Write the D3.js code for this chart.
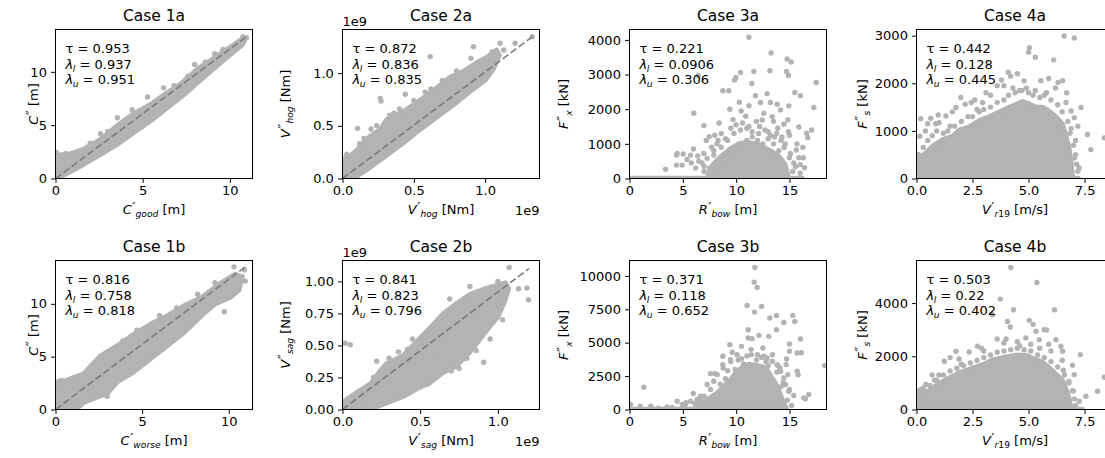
<!DOCTYPE html>
<html>
<head>
<meta charset="utf-8">
<script src="https://cdn.jsdelivr.net/npm/d3@7"></script>
<style>
  body { margin: 0; background: #fff; }
  svg { display: block; }
  text { font-family: "DejaVu Sans", sans-serif; fill: #000; }
</style>
</head>
<body>
<svg id="fig" width="1105" height="458"></svg>
<script>
// ---- Panel text -------------------------------------------------------
const titles = ["Case 1a", "Case 2a", "Case 3a", "Case 4a", "Case 1b", "Case 2b", "Case 3b", "Case 4b"];
const tauValues = ["0.953", "0.872", "0.221", "0.442", "0.816", "0.841", "0.371", "0.503"];
const lambdaLower = ["0.937", "0.836", "0.0906", "0.128", "0.758", "0.823", "0.118", "0.22"];
const lambdaUpper = ["0.951", "0.835", "0.306", "0.445", "0.818", "0.796", "0.652", "0.402"];

// axis labels: base symbol, subscript, unit (x labels carry one prime, y labels two)
const xLabelBase = ["C", "V", "R", "V", "C", "V", "R", "V"];
const xLabelSub = ["good", "hog", "bow", "r19", "worse", "sag", "bow", "r19"];
const xLabelUnit = ["[m]", "[Nm]", "[m]", "[m/s]", "[m]", "[Nm]", "[m]", "[m/s]"];
const yLabelBase = ["C", "V", "F", "F", "C", "V", "F", "F"];
const yLabelSub = ["", "hog", "x", "s", "", "sag", "x", "s"];
const yLabelUnit = ["[m]", "[Nm]", "[kN]", "[kN]", "[m]", "[Nm]", "[kN]", "[kN]"];
const offsetText = ["", "1e9", "", "", "", "1e9", "", ""];

// ---- Axis ranges and ticks (moment values in units of 1e9 Nm) ---------
const xMax = [11.3, 1.381, 18.47, 8.79, 11.37, 1.268, 18.47, 8.79];
const yMax = [13.97, 1.414, 4300, 3130, 14.1, 1.163, 11150, 5600];
const xTickValues = [[0, 5, 10], [0, 0.5, 1], [0, 5, 10, 15], [0, 2.5, 5, 7.5],
                     [0, 5, 10], [0, 0.5, 1], [0, 5, 10, 15], [0, 2.5, 5, 7.5]];
const xTickLabels = [["0", "5", "10"], ["0.0", "0.5", "1.0"], ["0", "5", "10", "15"], ["0.0", "2.5", "5.0", "7.5"],
                     ["0", "5", "10"], ["0.0", "0.5", "1.0"], ["0", "5", "10", "15"], ["0.0", "2.5", "5.0", "7.5"]];
const yTickValues = [[0, 5, 10], [0, 0.5, 1], [0, 1000, 2000, 3000, 4000], [0, 1000, 2000, 3000],
                     [0, 5, 10], [0, 0.25, 0.5, 0.75, 1], [0, 2500, 5000, 7500, 10000], [0, 2000, 4000]];
const yTickLabels = [["0", "5", "10"], ["0.0", "0.5", "1.0"], ["0", "1000", "2000", "3000", "4000"], ["0", "1000", "2000", "3000"],
                     ["0", "5", "10"], ["0.00", "0.25", "0.50", "0.75", "1.00"], ["0", "2500", "5000", "7500", "10000"], ["0", "2000", "4000"]];

// ---- Scatter data: dense cores (outline of overlapping points) + single points
const case1aCloud = [[0,2.2],[0.8,2.3],[1.6,2.75],[2.6,3.7],[3.55,5.0],[4.5,6.1],[5.5,7.0],[6.25,7.9],[7.2,8.9],[8.15,10.3],[9.1,11.3],[10.1,12.4],[10.7,13.1],[10.85,12.9],[10.7,12.5],[10.1,11.7],[9.3,10.6],[8.35,9.25],[7.4,7.9],[6.45,6.65],[5.47,5.4],[4.5,4.3],[3.55,3.2],[2.6,2.25],[1.6,1.3],[0.7,0.5],[0.1,0],[0,0]];
const case1aPoints = [[0.05,2.45],[0.6,2.35],[1.15,2.35],[2.58,4.2],[3.55,5.7],[4.4,6.45],[5.28,7.65],[6.2,8.5],[7.98,10.7],[9.13,11.7],[10.75,13.3],[10.95,13.2],[2.0,3.3],[3.0,4.4],[7.6,9.6],[9.6,12.1],[6.8,8.7],[8.6,10.9]];

const case2aCloud = [[0,0.18],[0.05,0.21],[0.1,0.27],[0.19,0.4],[0.26,0.46],[0.31,0.56],[0.43,0.64],[0.54,0.74],[0.66,0.86],[0.75,0.96],[0.85,1.02],[0.94,1.1],[1.01,1.15],[1.08,1.22],[1.1,1.17],[1.06,1.04],[1.0,0.93],[0.89,0.82],[0.78,0.7],[0.66,0.58],[0.54,0.46],[0.43,0.34],[0.31,0.22],[0.19,0.1],[0.1,0.02],[0.05,0],[0,0]];
const case2aPoints = [[0.105,0.476],[0.265,0.76],[0.27,0.735],[0.44,0.8],[0.615,1.157],[0.918,1.25],[1.105,1.284],[1.21,1.284],[1.33,1.345],[1.13,1.22],[1.05,1.2],[0.2,0.47],[0.36,0.62],[0.5,0.74],[0.7,0.93],[0.8,1.02],[0.03,0.23],[0.12,0.33],[0.9,1.14],[0.58,0.82],[0.15,0.38],[0.24,0.5],[0.33,0.6],[0.4,0.66],[0.62,0.85]];

const case2bCloud = [[0,0.055],[0.05,0.1],[0.114,0.15],[0.178,0.2],[0.24,0.3],[0.285,0.36],[0.39,0.42],[0.5,0.56],[0.564,0.64],[0.65,0.75],[0.736,0.83],[0.822,0.9],[0.908,0.94],[0.994,0.97],[1.05,0.99],[1.07,0.94],[1.04,0.83],[1.0,0.72],[0.95,0.65],[0.886,0.55],[0.822,0.45],[0.736,0.34],[0.65,0.29],[0.564,0.21],[0.478,0.16],[0.39,0.1],[0.285,0.05],[0.2,0.01],[0.17,0],[0,0]];
const case2bPoints = [[0.017,0.517],[0.05,0.506],[0.22,0.377],[0.3,0.4],[0.36,0.45],[0.45,0.55],[0.69,0.862],[1.073,1.109],[1.133,0.943],[1.187,0.948],[1.197,0.857],[0.908,0.369],[0.95,0.55],[1.03,0.7],[0.6,0.44],[0.82,0.96],[1.0,1.0],[0.55,0.2],[0.75,0.32],[0.2,0.25],[0.28,0.33],[0.42,0.47],[0.8,0.4],[0.86,0.46],[0.7,0.3]];

const case3aCloud = [[7.3,60],[7.8,400],[8.6,650],[9.4,850],[10.2,1000],[11.0,1050],[11.8,1000],[12.6,900],[13.4,780],[14.1,620],[14.6,400],[14.9,60]];
const case3aPoints = [[11.19,4077],[13.28,3623],[14.78,3449],[15.16,3362],[10.41,3062],[9.97,2917],[9.84,2840],[11.66,3091],[13.16,3111],[14.72,3091],[14.9,2975],[17.5,2772],[6.44,2975],[8.75,2531],[9.31,2531],[11.47,2743],[15.5,2483],[16.03,2386],[11.81,2386],[12.28,2193],[13.22,2193],[13.84,2145],[14.16,1980],[14.94,2096],[17.28,2048],[6.03,1884],[9.41,2000],[10.47,1951],[6.97,1526],[7.47,1208],[12.44,1690],[12.6,1884],[13.38,1787],[14.47,1565],[14.84,1690],[15.88,1488],[16.6,1304],[17.06,1401],[16.72,1179],[16.25,898],[15.63,821],[15.09,725],[15.88,599],[16.41,309],[15.56,338],[4.47,725],[4.41,676],[5.03,705],[5.72,676],[4.94,386],[4.41,386],[3.38,270],[6.97,725],[7.28,580],[7.9,676],[8.2,1000],[8.6,1300],[9.0,1150],[9.5,1450],[10.0,1550],[10.6,1600],[11.2,1500],[11.9,1650],[12.2,1500],[13.0,1350],[13.6,1200],[14.2,1100],[14.6,1000],[15.0,1250],[13.9,1450],[10.9,1800],[9.7,1700],[8.0,1250],[7.7,900],[6.5,500],[6.2,300],[5.8,450],[7.0,350],[15.3,200],[16.0,150],[10.3,2200],[11.2,2100],[12.9,2450],[7.2,1100],[8.4,1600],[5.4,550],[6.0,850],[16.3,600],[13.5,1650],[7.0,200],[7.5,300],[8.0,200],[8.5,350],[9.0,500],[9.5,700],[10.0,800],[10.5,950],[11.0,1100],[11.5,1200],[12.0,1100],[12.5,1000],[13.0,1150],[13.5,1000],[14.0,800],[14.5,900],[15.0,600],[15.4,450],[8.6,900],[9.2,1100],[9.8,1300],[10.4,1400],[11.0,1450],[11.5,1350],[12.1,1300],[12.7,1400],[13.2,1250],[13.8,1300],[14.3,1200],[7.9,800],[8.3,1100],[6.8,450],[6.4,650],[16.0,400],[15.7,1000],[14.9,1350]];
const case3aFloor = [[0,0],[16.2,0]];

const case4aCloud = [[0,0],[0.04,400],[0.42,540],[0.71,680],[1.16,820],[1.61,890],[1.9,1020],[2.35,1090],[2.8,1220],[3.24,1300],[3.69,1400],[4.14,1500],[4.43,1560],[4.73,1620],[5.03,1570],[5.33,1500],[5.63,1500],[5.92,1420],[6.22,1300],[6.52,1150],[6.67,900],[6.82,620],[6.9,340],[6.96,78],[7.0,0]];
const case4aPoints = [[6.59,2993],[7.04,2951],[5.0,2654],[5.04,2746],[5.3,2549],[6.12,2492],[4.09,2231],[4.5,2200],[4.2,2150],[3.79,2069],[3.9,1950],[3.6,1950],[5.55,2055],[6.32,2019],[6.52,2055],[6.2,1900],[4.6,1850],[4.3,1900],[1.98,1701],[2.44,1595],[2.17,1560],[2.95,1595],[2.7,1450],[0.97,1334],[1.01,1172],[0.64,1264],[1.31,1313],[0.86,1150],[0.19,1257],[0.15,889],[1.76,1490],[1.5,1100],[0.4,1000],[6.67,1596],[6.9,1419],[7.34,1490],[7.04,1278],[7.2,1100],[7.63,925],[7.78,607],[8.38,854],[7.04,430],[7.26,219],[7.1,800],[6.9,1050],[5.8,1800],[5.3,1850],[4.9,1900],[3.3,1750],[2.3,1300],[1.2,950],[0.3,650],[0.1,500],[0.5,800],[0.7,900],[0.9,1000],[1.4,1000],[1.7,1100],[2.0,1200],[2.5,1300],[2.8,1400],[3.0,1450],[3.3,1500],[3.6,1600],[3.9,1650],[4.1,1750],[4.4,1800],[4.7,1850],[5.0,1800],[5.2,1750],[5.5,1700],[5.7,1750],[6.0,1650],[6.3,1550],[6.5,1400],[6.75,1200],[6.85,950],[7.0,700],[7.1,500],[7.15,300],[7.2,150],[2.6,1650],[3.1,1800],[4.8,2050],[5.9,2100],[6.7,1800],[1.6,1400],[0.5,1150]];
const case4aFloor = [[0,0],[7.2,0]];

const case1bCloud = [[0,2.6],[0.66,2.8],[1.63,3.4],[2.6,5.1],[3.57,6.05],[4.53,7.15],[5.5,8.1],[6.47,8.9],[7.44,9.85],[8.41,10.6],[9.19,11.55],[9.57,12.0],[10.35,12.8],[10.8,12.6],[10.6,11.3],[10.1,10.6],[9.19,9.95],[8.41,8.85],[7.44,7.3],[6.47,6.05],[5.5,4.8],[4.53,3.55],[3.57,2.6],[2.98,1.5],[2.4,1.15],[1.63,0.65],[1.2,0],[0,0]];
const case1bPoints = [[10.3,13.5],[10.9,13.2],[10.95,12.15],[10.2,12.6],[9.75,9.25],[9.2,12.0],[2.98,1.25],[0.3,2.75],[1.0,2.95],[3.1,5.45],[3.9,6.5],[4.7,7.5],[6.0,8.9],[7.0,9.6],[8.2,10.9],[0.02,2.4]];

const case3bCloud = [[6.03,0],[6.34,373],[7.28,746],[8.22,1244],[8.84,1742],[9.47,2239],[9.94,2737],[10.56,3160],[11.19,3409],[11.81,3309],[12.44,3234],[12.91,2986],[13.28,2488],[13.69,1990],[14.09,1244],[14.47,498],[14.78,0]];
const case3bPoints = [[11.75,10624],[11.69,9529],[11.97,9131],[11.03,7788],[12.38,7713],[11.72,7290],[13.16,6842],[13.78,7041],[15.31,7041],[15.5,6593],[14.47,6519],[13.78,5971],[16.03,5275],[11.13,5971],[11.13,5349],[11.5,5300],[12.13,5548],[13.06,5473],[9.41,4852],[10.5,4727],[11.41,4105],[12.0,4105],[12.59,3981],[13.4,4100],[8.75,3981],[9.63,4279],[15.0,4902],[15.0,4354],[15.72,4229],[16.1,4250],[14.72,3782],[14.69,3359],[15.72,2861],[15.8,2600],[18.3,3284],[8.75,3359],[9.5,3600],[7.59,2687],[8.0,2687],[1.34,1667],[5.97,1194],[4.47,622],[5.3,500],[5.2,300],[0.1,373],[1.0,250],[2.0,250],[3.53,199],[16.34,871],[16.8,1120],[15.4,1045],[14.84,2612],[14.4,2000],[14.2,1700],[15.0,1500],[13.8,2800],[10.2,3700],[10.7,3400],[12.8,3600],[14.1,3100],[9.0,2300],[8.5,1900],[7.6,1500],[7.0,1000],[6.6,700],[14.8,700],[15.2,300],[13.9,3300],[9.9,3000],[12.5,4600],[11.4,4500],[16.5,800],[6.1,450],[4.0,150],[2.7,100],[7.28,1866],[7.9,2115],[8.22,2612],[8.78,3110],[9.47,3732],[10.09,4105],[12.9,3856],[13.38,3608],[13.84,3359],[14.16,2861],[14.47,2364],[14.63,1866],[14.94,1368],[6.66,995],[5.72,622],[6.34,746],[4.94,373],[10.5,3800],[11.0,4000],[11.9,3700],[12.4,3900],[9.2,2900],[13.0,3300]];
const case3bFloor = [[0,0],[14.5,0]];

const case4bCloud = [[0,0],[0.04,520],[0.42,650],[0.86,900],[1.31,1130],[1.9,1380],[2.5,1560],[2.95,1690],[3.39,1870],[3.99,1980],[4.43,2050],[4.88,2050],[5.18,1930],[5.63,1780],[5.92,1580],[6.22,1340],[6.52,1100],[6.67,780],[6.82,420],[6.9,62],[6.95,0]];
const case4bPoints = [[4.21,5338],[5.37,4775],[3.74,4150],[4.33,3750],[6.16,3750],[3.39,3562],[4.06,3312],[4.18,3100],[5.03,3350],[5.2,3200],[5.33,2938],[5.7,3000],[5.8,2990],[5.48,2625],[4.88,2688],[3.6,2650],[4.5,2550],[2.72,2375],[2.35,2162],[1.76,2188],[1.5,1950],[1.24,1812],[0.42,938],[0.2,750],[7.31,2062],[6.96,1662],[6.55,1475],[7.04,1312],[7.56,500],[8.08,688],[8.38,1212],[7.26,312],[6.52,2188],[6.44,2375],[6.22,2625],[6.0,2200],[5.9,2450],[3.0,2200],[2.0,1700],[1.0,1300],[0.8,1100],[6.8,1000],[7.0,700],[4.6,2400],[3.9,2500],[5.1,2450],[0.05,300],[0.1,700],[0.3,800],[0.6,900],[0.9,1100],[1.2,1300],[1.5,1450],[1.8,1550],[2.1,1650],[2.4,1750],[2.7,1850],[3.0,1950],[3.3,2050],[3.6,2150],[3.9,2200],[4.2,2250],[4.5,2300],[4.8,2250],[5.1,2200],[5.4,2050],[5.7,1950],[6.0,1800],[6.3,1600],[6.6,1300],[6.8,1050],[6.95,700],[7.05,400],[7.1,150],[2.9,2300],[4.0,2650],[5.5,2300],[6.5,1850],[0.7,1300],[1.9,1900]];
const case4bFloor = [[0,0],[7.4,0]];

// dashed reference line from the origin to (max x, max y); cases 1 and 2 only
const refLineEnd = [[10.95, 13.3], [1.33, 1.345], null, null, [10.95, 13.5], [1.2, 1.1], null, null];

const clouds = [case1aCloud, case2aCloud, case3aCloud, case4aCloud, case1bCloud, case2bCloud, case3bCloud, case4bCloud];
const points = [case1aPoints, case2aPoints, case3aPoints, case4aPoints, case1bPoints, case2bPoints, case3bPoints, case4bPoints];
const floors = [null, null, case3aFloor, case4aFloor, null, null, case3bFloor, case4bFloor];

// ---- Layout ------------------------------------------------------------
const colLeft = [55.5, 342.5, 629.5, 916.5];
const rowTop = [29.5, 260.5];
const axW = 197, axH = 149;
const yLabelBaseline = [-18, -53, -61.5, -50];
const grey = "#b3b3b3";
const dotR = 2.7;
const fs = 13;

const svg = d3.select("#fig");
svg.append("rect").attr("width", 1105).attr("height", 458).attr("fill", "#fff");

// Typesets  base{prime}_{sub} unit  as one text element whose baseline-left is
// the parent's origin; returns the drawn width.
function mathLabel(parent, base, prime, sub, unit, size) {
  const t = parent.append("text").attr("x", 0).attr("y", 0).attr("font-size", size);
  t.append("tspan").style("font-style", "italic").text(base + (prime ? "" : ""));
  let y = 0;
  if (prime) {
    t.append("tspan").attr("dx", size * 0.04).attr("dy", -size * 0.08)
      .attr("font-size", size * 1.05).text(prime);
    y = -size * 0.08;
  }
  if (sub) {
    const s = t.append("tspan").attr("dx", prime ? size * 0.01 : -size * 0.03)
      .attr("dy", size * 0.27 - y).attr("font-size", size * 0.7);
    y = size * 0.27;
    for (const ch of sub) {
      s.append("tspan").style("font-style", /[0-9]/.test(ch) ? "normal" : "italic").text(ch);
    }
  }
  if (unit) {
    t.append("tspan").attr("dx", size * 0.318).attr("dy", -y).attr("font-size", size).text(unit);
  }
  const bb = t.node().getBBox();
  return bb.x + bb.width;
}

titles.forEach((title, i) => {
  const col = i % 4, row = Math.floor(i / 4);
  const left = colLeft[col], top = rowTop[row];
  const x = d3.scaleLinear().domain([0, xMax[i]]).range([left, left + axW]);
  const y = d3.scaleLinear().domain([0, yMax[i]]).range([top + axH, top]);
  const g = svg.append("g");

  const clipId = "clip" + i;
  svg.append("clipPath").attr("id", clipId).append("rect")
    .attr("x", left).attr("y", top).attr("width", axW).attr("height", axH);
  const plot = g.append("g").attr("clip-path", `url(#${clipId})`);

  const line = d3.line().x(d => x(d[0])).y(d => y(d[1]));

  if (floors[i]) {
    plot.append("path").attr("d", line(floors[i])).attr("fill", "none")
      .attr("stroke", grey).attr("stroke-width", dotR * 2).attr("stroke-linecap", "round");
  }
  plot.append("path").attr("d", line(clouds[i]) + "Z")
    .attr("fill", grey).attr("stroke", grey).attr("stroke-width", 4.6)
    .attr("stroke-linejoin", "round");
  plot.selectAll("circle").data(points[i]).join("circle")
    .attr("cx", d => x(d[0])).attr("cy", d => y(d[1])).attr("r", dotR).attr("fill", grey);

  if (refLineEnd[i]) {
    plot.append("path").attr("d", line([[0, 0], refLineEnd[i]]))
      .attr("fill", "none").attr("stroke", "#7a7a7a").attr("stroke-width", 1.6)
      .attr("stroke-dasharray", "7,3");
  }

  // axes
  const xAxis = d3.axisBottom(x).tickValues(xTickValues[i])
    .tickFormat((d, k) => xTickLabels[i][k]).tickSize(4.4).tickPadding(3).tickSizeOuter(0);
  const yAxis = d3.axisLeft(y).tickValues(yTickValues[i])
    .tickFormat((d, k) => yTickLabels[i][k]).tickSize(4.4).tickPadding(4.2).tickSizeOuter(0);
  const gx = g.append("g").attr("transform", `translate(0,${top + axH})`).call(xAxis);
  const gy = g.append("g").attr("transform", `translate(${left},0)`).call(yAxis);
  [gx, gy].forEach(a => {
    a.select(".domain").remove();
    a.selectAll("line").attr("stroke", "#000").attr("stroke-width", 1);
    a.selectAll("text").attr("font-size", fs).attr("font-family", "DejaVu Sans").attr("fill", "#000");
  });

  g.append("rect").attr("x", left).attr("y", top).attr("width", axW).attr("height", axH)
    .attr("fill", "none").attr("stroke", "#000").attr("stroke-width", 1);

  // title
  g.append("text").attr("x", left + axW / 2).attr("y", top - 8.5)
    .attr("text-anchor", "middle").attr("font-size", 15.5).text(title);

  // dependence measures
  const ax = left + 10;
  g.append("text").attr("x", ax).attr("y", top + 23.7).attr("font-size", fs)
    .text("τ = " + tauValues[i]);
  const l1 = g.append("g").attr("transform", `translate(${ax},${top + 39})`);
  mathLabel(l1, "λ", "", "l", "= " + lambdaLower[i], fs);
  const l2 = g.append("g").attr("transform", `translate(${ax},${top + 54.3})`);
  mathLabel(l2, "λ", "", "u", "= " + lambdaUpper[i], fs);

  // x label
  const xl = g.append("g");
  const xw = mathLabel(xl, xLabelBase[i], "′", xLabelSub[i], xLabelUnit[i], fs);
  xl.attr("transform", `translate(${left + axW / 2 - xw / 2},${top + axH + 35})`);

  // y label (rotated)
  const yl = g.append("g");
  const ylInner = yl.append("g");
  const yw = mathLabel(ylInner, yLabelBase[i], "″", yLabelSub[i], yLabelUnit[i], fs);
  ylInner.attr("transform", `translate(${-yw / 2},0)`);
  yl.attr("transform", `translate(${left + yLabelBaseline[col]},${top + axH / 2}) rotate(-90)`);

  // scale offset text
  if (offsetText[i]) {
    g.append("text").attr("x", left).attr("y", top - 3.5).attr("font-size", fs).text(offsetText[i]);
    g.append("text").attr("x", left + axW).attr("y", top + axH + 36.5)
      .attr("text-anchor", "end").attr("font-size", fs).text(offsetText[i]);
  }
});
</script>
</body>
</html>
